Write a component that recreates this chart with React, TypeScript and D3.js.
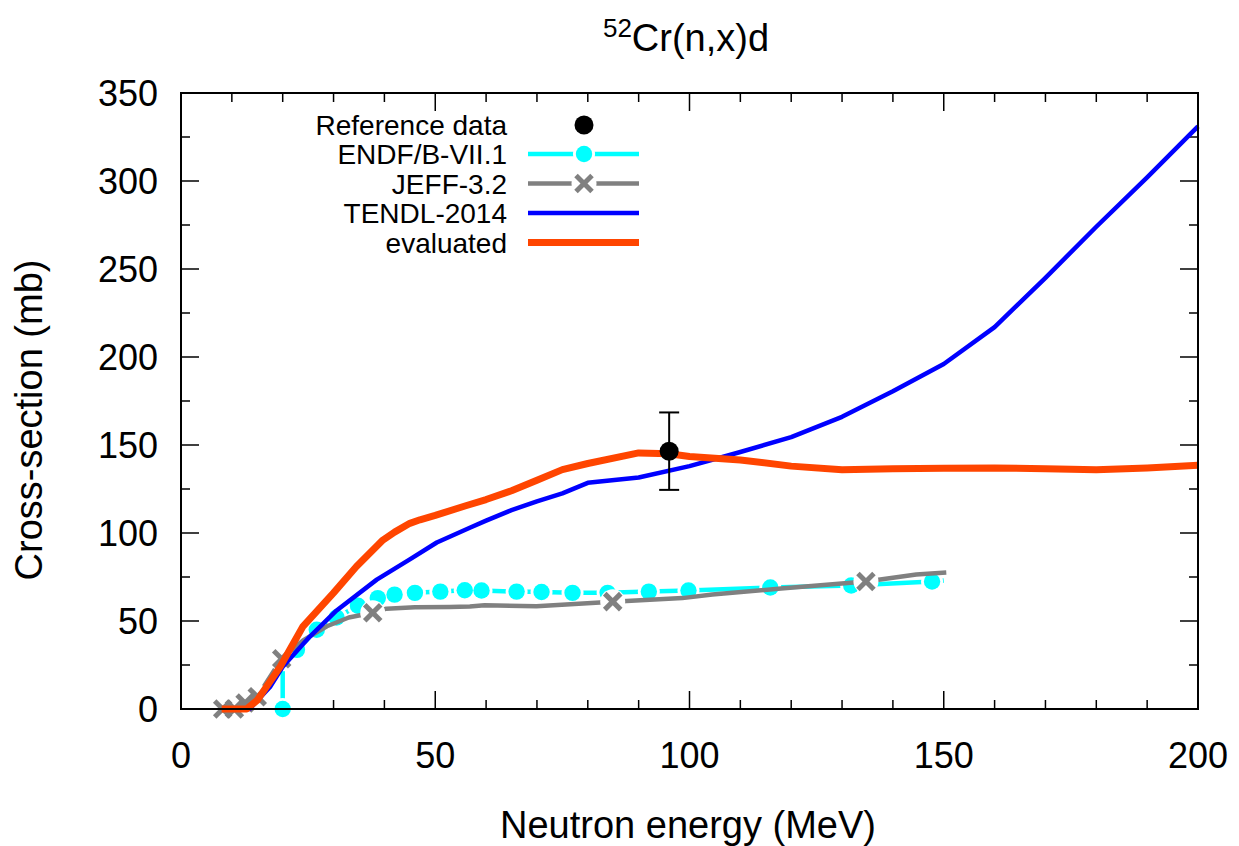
import React from "react";
import * as d3 from "d3";

// ---------- data ----------
const xTickValues = [0, 50, 100, 150, 200];
const yTickValues = [0, 50, 100, 150, 200, 250, 300, 350];

const refE = [96];
const refXS = [146.5];
const refErr = [22];

const endfE = [20, 20, 22.8, 26.7, 30.6, 34.8, 38.7, 42, 46, 51, 55.8, 59.1, 66, 70.9, 77, 83.9, 92, 99.8, 115.9, 131.8, 147.7, 150];
const endfXS = [0, 25, 33.6, 45, 52, 58.7, 63, 65, 66, 66.7, 67.5, 67.3, 66.7, 66.5, 66, 66, 66.7, 67.3, 69, 70.2, 72.4, 73];
const endfMarkerE = [20, 22.8, 26.7, 30.6, 34.8, 38.7, 42, 46, 51, 55.8, 59.1, 66, 70.9, 77, 83.9, 92, 99.8, 115.9, 131.8, 147.7];

const jeffE = [8.2, 10.5, 12.6, 15, 19.8, 24, 28.7, 33, 37.7, 40.4, 46, 52.8, 56.8, 59.7, 69.9, 84.9, 98.6, 104.5, 118, 134.7, 144.6, 150.5];
const jeffXS = [0, 0, 3.4, 7, 28.5, 39, 47, 52, 54.7, 57, 57.8, 58, 58.3, 59, 58.4, 61, 63, 65, 68.4, 72.5, 76.4, 77.5];
const jeffMarkerE = [8.2, 10.5, 12.6, 15, 19.8, 37.7, 84.9, 134.7];

const tendlE = [12, 13.5, 17.5, 20, 25.3, 30.6, 38.5, 45, 50.3, 56.8, 60, 65, 70, 75, 80, 90, 100, 110, 120, 130, 140, 150, 160, 170, 180, 190, 200];
const tendlXS = [0, 0, 12.5, 24, 41, 56, 73.5, 85, 94.6, 103, 107, 113, 118, 122.5, 128.5, 131.5, 138, 146, 154.5, 166, 180.5, 196, 217, 245, 274, 302, 331];

const evalE = [8, 12.9, 15, 19.5, 24, 30, 34.5, 39.7, 42, 45, 47, 50, 56, 60, 65, 70, 75, 80, 90, 96, 100, 110, 120, 130, 140, 150, 160, 170, 180, 190, 200];
const evalXS = [0, 0, 5, 24, 47, 66, 81, 96, 100.5, 105.5, 107.5, 110, 115.5, 119, 124, 130, 136, 139.5, 145.5, 145, 143.5, 141.5, 138, 136, 136.5, 136.8, 137, 136.5, 136, 137, 138.5];

const legendLabels = ["Reference data", "ENDF/B-VII.1", "JEFF-3.2", "TENDL-2014", "evaluated"];

// ---------- styles ----------
const FONT = "'Liberation Sans', Arial, Helvetica, sans-serif";
const C_ENDF = "#00ffff";
const C_JEFF = "#808080";
const C_TENDL = "#0000ff";
const C_EVAL = "#ff4500";

function zip(e: number[], v: number[]): [number, number][] {
  return e.map((d, i) => [d, v[i]] as [number, number]);
}

function XMark({ cx, cy, s, color, w }: { cx: number; cy: number; s: number; color: string; w: number }) {
  return (
    <g stroke={color} strokeWidth={w}>
      <line x1={cx - s} y1={cy - s} x2={cx + s} y2={cy + s} />
      <line x1={cx - s} y1={cy + s} x2={cx + s} y2={cy - s} />
    </g>
  );
}

export default function App() {
  const W = 1239;
  const H = 846;
  const left = 181, right = 1198, top = 93, bottom = 709;
  const x = d3.scaleLinear().domain([0, 200]).range([left, right]);
  const y = d3.scaleLinear().domain([0, 350]).range([bottom, top]);

  const line = d3
    .line<[number, number]>()
    .x((d) => x(d[0]))
    .y((d) => y(d[1]));

  const endfPts = zip(endfE, endfXS);
  const jeffPts = zip(jeffE, jeffXS);
  const tendlPts = zip(tendlE, tendlXS);
  const evalPts = zip(evalE, evalXS);

  const endfMarkers = endfMarkerE.map((e) => endfPts.find((p) => p[0] === e)!);
  const jeffMarkers = jeffMarkerE.map((e) => jeffPts.find((p) => p[0] === e)!);

  const xMinor = d3.range(0, 201, 10);
  const yMinor = d3.range(0, 351, 25);

  const legX1 = 528, legX2 = 639, legM = 584, legTextX = 507;
  const legY = [125, 154, 183.5, 213, 242.5];

  const xs = 8, xw = 5; // X marker half-size, stroke
  const cr = 8.2; // circle marker radius

  return (
    <svg
      width={W}
      height={H}
      style={{ position: "absolute", left: 0, top: 0, background: "#fff" }}
      fontFamily={FONT}
    >
      <rect x={0} y={0} width={W} height={H} fill="#fff" />

      {/* ticks */}
      <g stroke="#000" strokeWidth={1.5}>
        {xMinor.map((v) => {
          const major = v % 50 === 0;
          const len = major ? 18 : 9;
          return (
            <g key={"xt" + v}>
              <line x1={x(v)} x2={x(v)} y1={bottom} y2={bottom - len} />
              <line x1={x(v)} x2={x(v)} y1={top} y2={top + len} />
            </g>
          );
        })}
        {yMinor.map((v) => {
          const major = v % 50 === 0;
          const len = major ? 18 : 9;
          return (
            <g key={"yt" + v}>
              <line x1={left} x2={left + len} y1={y(v)} y2={y(v)} />
              <line x1={right} x2={right - len} y1={y(v)} y2={y(v)} />
            </g>
          );
        })}
      </g>

      {/* tick labels */}
      <g fontSize={36} fill="#000">
        {xTickValues.map((v) => (
          <text key={"xl" + v} x={x(v)} y={768} textAnchor="middle">
            {v}
          </text>
        ))}
        {yTickValues.map((v) => (
          <text key={"yl" + v} x={158} y={y(v) + 13} textAnchor="end">
            {v}
          </text>
        ))}
      </g>

      {/* axis titles */}
      <text x={688} y={838} fontSize={38} textAnchor="middle">
        Neutron energy (MeV)
      </text>
      <text transform={`translate(42,420) rotate(-90)`} fontSize={38} textAnchor="middle">
        Cross-section (mb)
      </text>

      {/* title */}
      <text x={686} y={51} fontSize={38} textAnchor="middle">
        <tspan fontSize={26} dy={-14}>52</tspan>
        <tspan dy={14}>Cr(n,x)d</tspan>
      </text>

      {/* ENDF */}
      <path d={line(endfPts)!} fill="none" stroke={C_ENDF} strokeWidth={4.5} strokeLinejoin="round" />
      {endfMarkers.map((p, i) => (
        <circle key={"eg" + i} cx={x(p[0])} cy={y(p[1])} r={cr + 2.8} fill="#fff" />
      ))}
      {endfMarkers.map((p, i) => (
        <circle key={"em" + i} cx={x(p[0])} cy={y(p[1])} r={cr} fill={C_ENDF} />
      ))}

      {/* JEFF */}
      <path d={line(jeffPts)!} fill="none" stroke={C_JEFF} strokeWidth={4.5} strokeLinejoin="round" />
      {jeffMarkers.map((p, i) => (
        <circle key={"jg" + i} cx={x(p[0])} cy={y(p[1])} r={12.5} fill="#fff" />
      ))}
      {jeffMarkers.map((p, i) => (
        <XMark key={"jm" + i} cx={x(p[0])} cy={y(p[1])} s={xs} color={C_JEFF} w={xw} />
      ))}

      {/* TENDL */}
      <path d={line(tendlPts)!} fill="none" stroke={C_TENDL} strokeWidth={4.5} strokeLinejoin="round" />

      {/* evaluated */}
      <path d={line(evalPts)!} fill="none" stroke={C_EVAL} strokeWidth={7} strokeLinejoin="round" />

      {/* reference data */}
      {refE.map((e, i) => {
        const cx = x(e);
        const y1 = y(refXS[i] + refErr[i]);
        const y2 = y(refXS[i] - refErr[i]);
        return (
          <g key={"r" + i} stroke="#000" strokeWidth={2}>
            <line x1={cx} x2={cx} y1={y1} y2={y2} />
            <line x1={cx - 10} x2={cx + 10} y1={y1} y2={y1} />
            <line x1={cx - 10} x2={cx + 10} y1={y2} y2={y2} />
            <circle cx={cx} cy={y(refXS[i])} r={9.5} fill="#000" stroke="none" />
          </g>
        );
      })}

      {/* frame */}
      <rect x={left} y={top} width={right - left} height={bottom - top} fill="none" stroke="#000" strokeWidth={2} />

      {/* legend */}
      <g fontSize={28} fill="#000">
        {legendLabels.map((t, i) => (
          <text key={"lt" + i} x={legTextX} y={legY[i] + 10} textAnchor="end">
            {t}
          </text>
        ))}
      </g>
      <circle cx={legM} cy={legY[0]} r={9.5} fill="#000" />
      <line x1={legX1} x2={legX2} y1={legY[1]} y2={legY[1]} stroke={C_ENDF} strokeWidth={4.5} />
      <circle cx={legM} cy={legY[1]} r={cr + 2.8} fill="#fff" />
      <circle cx={legM} cy={legY[1]} r={cr} fill={C_ENDF} />
      <line x1={legX1} x2={legX2} y1={legY[2]} y2={legY[2]} stroke={C_JEFF} strokeWidth={4.5} />
      <circle cx={legM} cy={legY[2]} r={12.5} fill="#fff" />
      <XMark cx={legM} cy={legY[2]} s={xs} color={C_JEFF} w={xw} />
      <line x1={legX1} x2={legX2} y1={legY[3]} y2={legY[3]} stroke={C_TENDL} strokeWidth={4.5} />
      <line x1={legX1} x2={legX2} y1={legY[4]} y2={legY[4]} stroke={C_EVAL} strokeWidth={7} />
    </svg>
  );
}
